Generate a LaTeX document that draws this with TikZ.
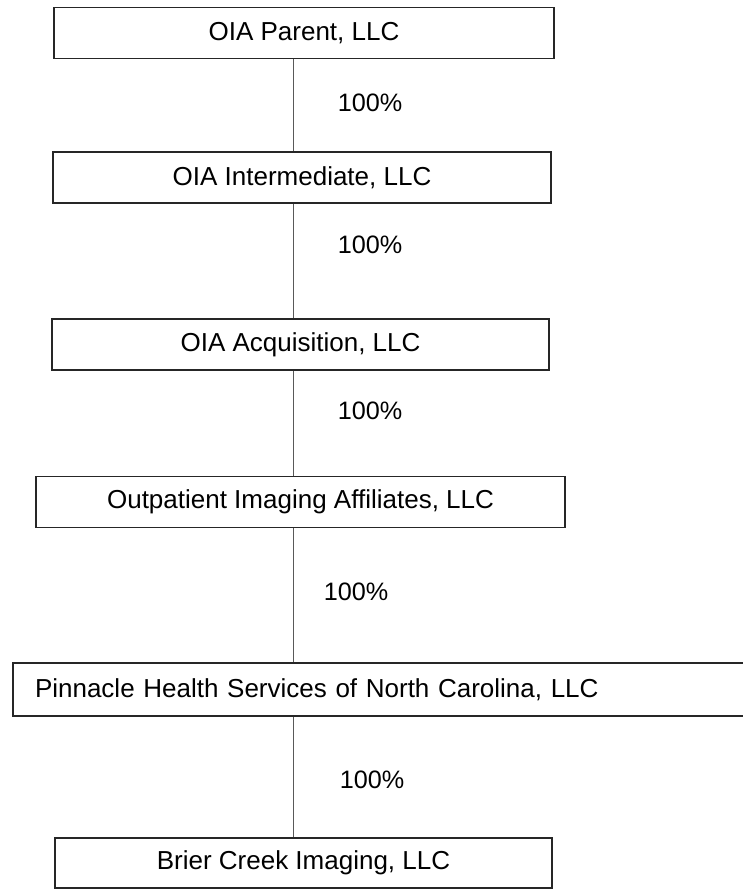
\documentclass[tikz,border=0pt]{standalone}
\usepackage{fontspec}
\setmainfont{Liberation Sans}
\usepackage{tikz}

\tikzset{
  entity/.style={draw=black!85, line width=0.8pt, inner sep=0pt,
    minimum height=25.5pt, font=\fontsize{13}{15}\selectfont},
  share/.style={inner sep=0pt, font=\fontsize{12.6}{15}\selectfont},
  link/.style={draw=black!65, line width=0.5pt}
}

\begin{document}
\begin{tikzpicture}[x=0.5pt,y=-0.5pt]
  \useasboundingbox (0,0) rectangle (743,890);

  % Ownership spine
  \coordinate (spine) at (293,0);

  % Entities
  \node[entity, minimum width=250pt] (parent) at (304,33) {OIA Parent, LLC};
  \node[entity, minimum width=249pt] (inter) at (302,177.5) {OIA Intermediate, LLC};
  \node[entity, minimum width=248.5pt] (acq) at (300.5,344.5) {OIA Acquisition, LLC};
  \node[entity, minimum width=264.5pt] (oia) at (300.5,502) {Outpatient Imaging Affiliates, LLC};
  \node[entity, text width=356pt, inner xsep=11pt, align=left, minimum height=26.5pt]
    (pinnacle) at (391,689.5) {Pinnacle Health Services of North Carolina, LLC};
  \node[entity, minimum width=248.5pt, minimum height=25pt] (brier) at (303.5,863) {Brier Creek Imaging, LLC};

  % Ownership lines
  \draw[link] (parent.south -| spine) -- (inter.north -| spine);
  \draw[link] (inter.south -| spine) -- (acq.north -| spine);
  \draw[link] (acq.south -| spine) -- (oia.north -| spine);
  \draw[link] (oia.south -| spine) -- (pinnacle.north -| spine);
  \draw[link] (pinnacle.south -| spine) -- (brier.north -| spine);

  % Percentages
  \node[share] (p1) at (370,103) {100\%};
  \node[share] (p2) at (370,245) {100\%};
  \node[share] (p3) at (370,411) {100\%};
  \node[share] (p4) at (356,592) {100\%};
  \node[share] (p5) at (372,780) {100\%};
\end{tikzpicture}
\end{document}
